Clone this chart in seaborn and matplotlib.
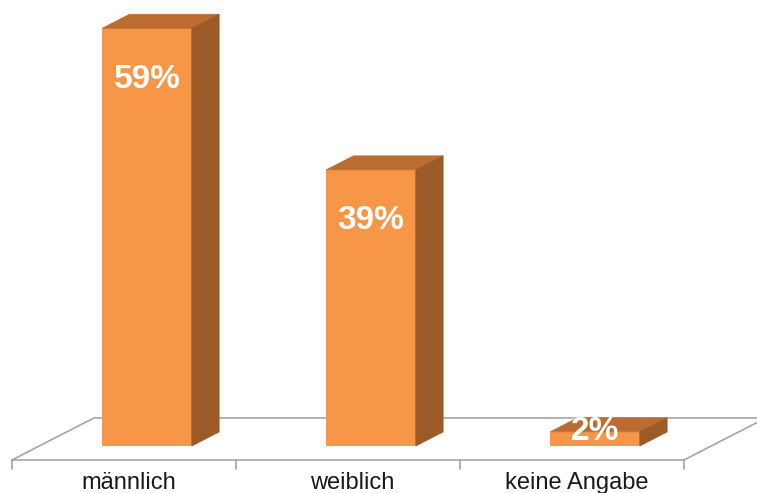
"""
plot.py
Gender split as a pseudo-3D column chart (orange columns on a floor).
"""

import matplotlib
matplotlib.use("Agg")
import matplotlib.pyplot as plt
from matplotlib.patches import Polygon
import seaborn as sns

# ── Data ─────────────────────────────────────────────────────────────────────

categories = ["männlich", "weiblich", "keine Angabe"]
values = [59, 39, 2]
value_labels = ["59%", "39%", "2%"]

# ── Style ────────────────────────────────────────────────────────────────────

FRONT = "#F79646"
TOP = "#BC6C30"
SIDE = "#9C5A28"
FLOOR = "#A6A6A6"

BAR_W = 0.40          # front face width in category units
DX, DY = 0.122, 1.98  # depth offset (category units, percent units)
SHIFT = 0.103         # front faces sit right of the band centre

sns.set_style("white")
plt.rcParams["font.family"] = ["Liberation Sans", "DejaVu Sans"]

fig = plt.figure(figsize=(7.57, 4.93), dpi=100)
ax = fig.add_axes([0, 0, 1, 1])

sns.barplot(x=categories, y=values, color=FRONT, saturation=1,
            width=BAR_W, ax=ax, zorder=3, linewidth=0, edgecolor="none")

# ── Floor ────────────────────────────────────────────────────────────────────

n = len(categories)
left, right = -0.5 - SHIFT, n - 0.5 - SHIFT
front_y, back_y = -DY, 2 * DY
fx = [left, right, right + 3 * DX, left + 3 * DX, left]
fy = [front_y, front_y, back_y, back_y, front_y]
ax.plot(fx, fy, color=FLOOR, lw=1.2, zorder=1, solid_joinstyle="miter")
for i in range(n + 1):
    ax.plot([left + i, left + i], [front_y, front_y - 1.2],
            color=FLOOR, lw=1.2, zorder=1)
for i, cat in enumerate(categories):
    ax.text(i - SHIFT + 0.02, front_y - 3.2, cat, ha="center", va="center",
            fontsize=17, color="#1a1a1a")

# ── 3D faces and labels ──────────────────────────────────────────────────────

for patch, val, lab in zip(ax.patches, values, value_labels):
    x0 = patch.get_x()
    x1 = x0 + patch.get_width()
    h = patch.get_height()
    top = [(x0, h), (x1, h), (x1 + DX, h + DY), (x0 + DX, h + DY)]
    side = [(x1, 0), (x1 + DX, DY), (x1 + DX, h + DY), (x1, h)]
    ax.add_patch(Polygon(top, closed=True, fc=TOP, ec=TOP, lw=0.5, zorder=3))
    ax.add_patch(Polygon(side, closed=True, fc=SIDE, ec=SIDE, lw=0.5, zorder=3))
    ly = val - 7.2 if val > 10 else val
    ax.text(x0 + patch.get_width() / 2, ly, lab, ha="center", va="center",
            fontsize=24, fontweight="bold", color="white", zorder=4)

ax.set_xlim(-147 / 224, (757 - 147) / 224)
ax.set_ylim(-(493 - 446) / 7.08, 446 / 7.08)
ax.axis("off")

fig.savefig("out.png", dpi=100)
plt.close(fig)
